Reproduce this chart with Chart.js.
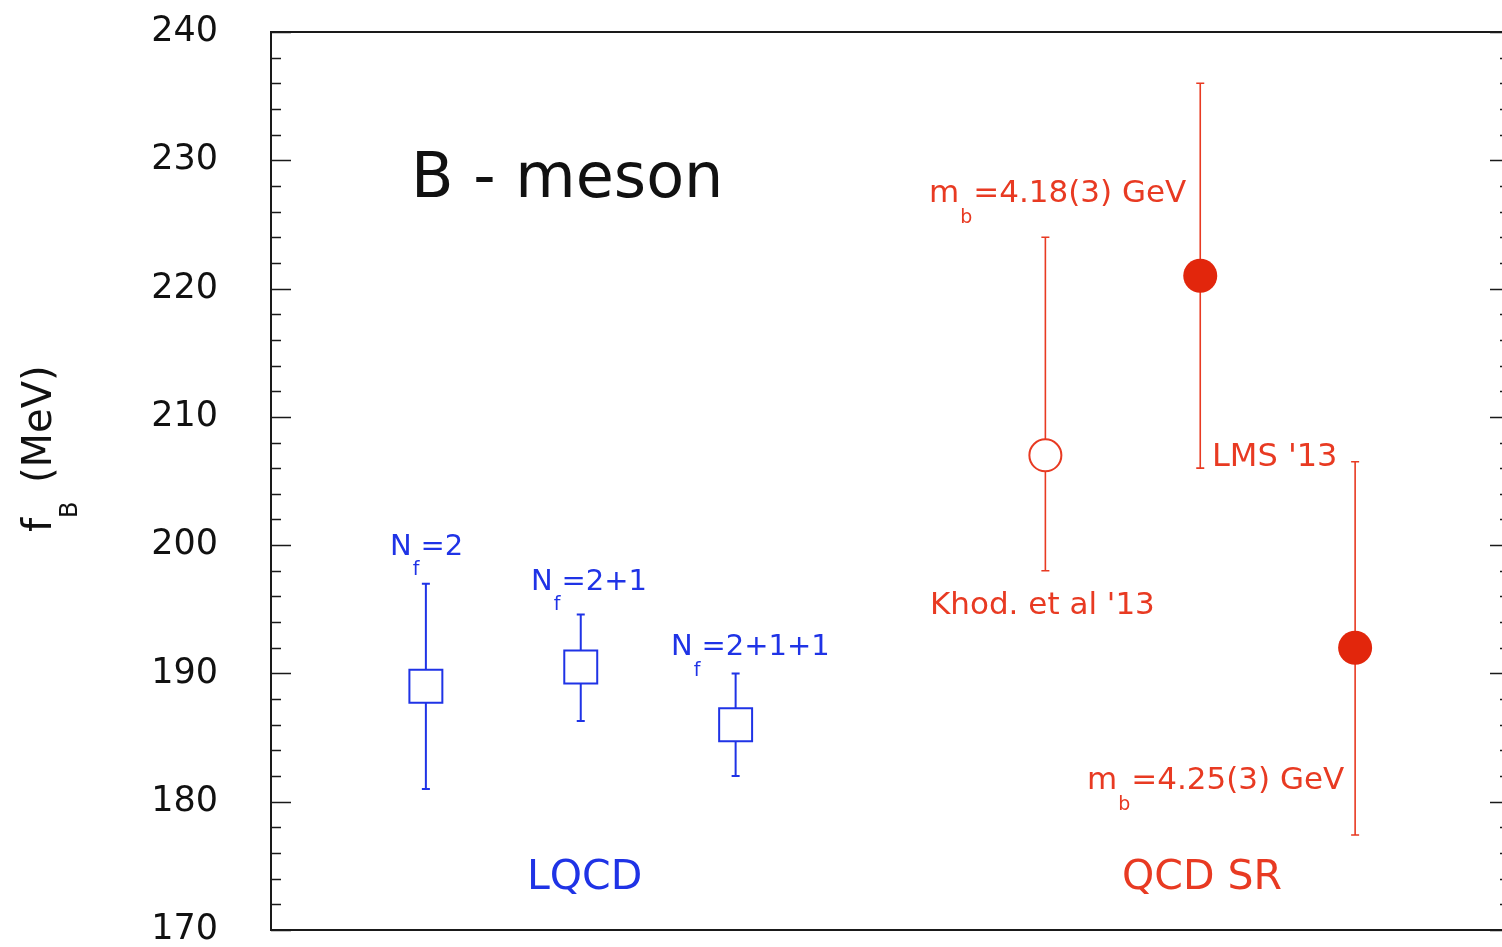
<!DOCTYPE html>
<html>
<head>
<meta charset="utf-8">
<script src="https://cdn.jsdelivr.net/npm/chart.js@4"></script>
<style>
  html, body { margin: 0; padding: 0; background: #fff; overflow: hidden; }
  #wrap { width: 1512px; height: 947px; position: relative; }
</style>
</head>
<body>
<div id="wrap"><canvas id="c" width="1512" height="947"></canvas></div>
<script>
// f_B values (MeV) with error ranges
const yTicks = [170, 180, 190, 200, 210, 220, 230, 240];

// Lattice QCD results (Nf = 2, 2+1, 2+1+1)
const lqcdX = [1, 2, 3];
const lqcdValue = [189, 190.5, 186];
const lqcdLow = [181, 186.3, 182];
const lqcdHigh = [197, 194.6, 190];

// QCD sum rules: Khodjamirian et al '13
const khodX = [5];
const khodValue = [207];
const khodLow = [198];
const khodHigh = [224];

// QCD sum rules: LMS '13 for m_b = 4.18 and 4.25 GeV
const lmsX = [6, 7];
const lmsValue = [221, 192];
const lmsLow = [206, 177.4];
const lmsHigh = [236, 206.5];

const BLUE = '#1f33e6';
const RED = '#e83a22';
const RED_FILL = '#e2260c';
const FONT = 'DejaVu Sans';

function points(xs, vals, lo, hi) {
  return xs.map((x, i) => ({ x: x, y: vals[i], lo: lo[i], hi: hi[i] }));
}

function noPadding(s) {
  s.paddingTop = 0;
  s.paddingBottom = 0;
  s.paddingLeft = 0;
  s.paddingRight = 0;
}

// vertical error bars with short caps
const errorBars = {
  id: 'errorBars',
  beforeDatasetsDraw(chart) {
    const { ctx, scales: { x, y } } = chart;
    chart.data.datasets.forEach((ds) => {
      ctx.save();
      ctx.strokeStyle = ds.errColor;
      ctx.lineWidth = ds.errWidth;
      ds.data.forEach((d) => {
        const px = x.getPixelForValue(d.x);
        const pt = y.getPixelForValue(d.hi);
        const pb = y.getPixelForValue(d.lo);
        ctx.beginPath();
        ctx.moveTo(px, pt); ctx.lineTo(px, pb);
        ctx.moveTo(px - 4, pt); ctx.lineTo(px + 4, pt);
        ctx.moveTo(px - 4, pb); ctx.lineTo(px + 4, pb);
        ctx.stroke();
      });
      ctx.restore();
    });
  }
};

// plot frame with inward major/minor ticks on both sides
const frame = {
  id: 'frame',
  beforeDatasetsDraw(chart) {
    const { ctx, chartArea: a, scales: { y } } = chart;
    ctx.save();
    ctx.strokeStyle = '#1a1a1a';
    ctx.lineWidth = 2;
    ctx.strokeRect(a.left, a.top, a.right - a.left, a.bottom - a.top);
    ctx.lineWidth = 1.6;
    for (let v = y.min; v <= y.max; v += 2) {
      const py = Math.round(y.getPixelForValue(v)) + 0.5;
      const len = (v % 10 === 0) ? 20 : 10;
      ctx.beginPath();
      ctx.moveTo(a.left, py); ctx.lineTo(a.left + len, py);
      ctx.moveTo(a.right, py); ctx.lineTo(a.right - len, py);
      ctx.stroke();
    }
    ctx.restore();
  }
};

function subText(ctx, parts, x, base, size, subSize, drop, color) {
  ctx.fillStyle = color;
  ctx.font = size + 'px "' + FONT + '"';
  ctx.fillText(parts[0], x, base);
  x += ctx.measureText(parts[0]).width + 1;
  ctx.font = subSize + 'px "' + FONT + '"';
  ctx.fillText(parts[1], x, base + drop);
  x += ctx.measureText(parts[1]).width + 1;
  ctx.font = size + 'px "' + FONT + '"';
  ctx.fillText(parts[2], x, base);
}

const labels = {
  id: 'labels',
  afterDraw(chart) {
    const ctx = chart.ctx;
    ctx.save();
    ctx.textBaseline = 'alphabetic';
    ctx.textAlign = 'left';

    // axis title f_B (MeV)
    ctx.save();
    ctx.translate(51, 532);
    ctx.rotate(-Math.PI / 2);
    ctx.fillStyle = '#111';
    ctx.font = '40px "' + FONT + '"';
    ctx.fillText('f', 0, 0);
    ctx.font = '24px "' + FONT + '"';
    ctx.fillText('B', 14, 26);
    ctx.font = '40px "' + FONT + '"';
    ctx.fillText('(MeV)', 49, 0);
    ctx.restore();

    ctx.fillStyle = '#111';
    ctx.font = '62px "' + FONT + '"';
    ctx.fillText('B - meson', 411, 197);

    subText(ctx, ['N', 'f', '=2'], 390, 555, 29, 19, 20, BLUE);
    subText(ctx, ['N', 'f', '=2+1'], 531, 590, 29, 19, 20, BLUE);
    subText(ctx, ['N', 'f', '=2+1+1'], 671, 655, 29, 19, 21, BLUE);

    ctx.fillStyle = BLUE;
    ctx.font = '41px "' + FONT + '"';
    ctx.fillText('LQCD', 527, 889);

    subText(ctx, ['m', 'b', '=4.18(3) GeV'], 929, 202, 31, 19, 21, RED);
    subText(ctx, ['m', 'b', '=4.25(3) GeV'], 1087, 789, 31, 19, 21, RED);

    ctx.fillStyle = RED;
    ctx.font = '31px "' + FONT + '"';
    ctx.fillText("Khod. et al '13", 930, 614);
    ctx.font = '32px "' + FONT + '"';
    ctx.fillText("LMS '13", 1212, 466);

    ctx.font = '41px "' + FONT + '"';
    ctx.fillText('QCD SR', 1122, 889);
    ctx.restore();
  }
};

new Chart(document.getElementById('c'), {
  type: 'scatter',
  data: {
    datasets: [
      {
        label: 'LQCD',
        data: points(lqcdX, lqcdValue, lqcdLow, lqcdHigh),
        pointStyle: 'rect',
        pointRadius: 23.3,
        borderColor: BLUE,
        backgroundColor: '#fff',
        borderWidth: 2,
        errColor: BLUE,
        errWidth: 2
      },
      {
        label: "Khod. et al '13",
        data: points(khodX, khodValue, khodLow, khodHigh),
        pointStyle: 'circle',
        pointRadius: 16,
        borderColor: RED,
        backgroundColor: '#fff',
        borderWidth: 2,
        errColor: RED,
        errWidth: 1.6
      },
      {
        label: "LMS '13",
        data: points(lmsX, lmsValue, lmsLow, lmsHigh),
        pointStyle: 'circle',
        pointRadius: 17,
        borderColor: RED_FILL,
        backgroundColor: RED_FILL,
        borderWidth: 0,
        errColor: RED,
        errWidth: 1.6
      }
    ]
  },
  options: {
    responsive: false,
    animation: false,
    events: [],
    layout: { autoPadding: false, padding: { top: 32, bottom: 17, left: 0, right: 2 } },
    plugins: { legend: { display: false }, tooltip: { enabled: false } },
    scales: {
      x: { type: 'linear', min: 0, max: 8, display: false, afterFit: noPadding },
      y: {
        type: 'linear',
        min: 170,
        max: 240,
        afterFit(s) { s.width = 271; noPadding(s); },
        afterBuildTicks(s) { s.ticks = yTicks.map(v => ({ value: v })); },
        ticks: {
          font: { family: FONT, size: 35, lineHeight: 0.9 },
          color: '#111',
          padding: 53
        },
        grid: { display: false, drawTicks: false },
        border: { display: false }
      }
    }
  },
  plugins: [frame, errorBars, labels]
});
</script>
</body>
</html>
